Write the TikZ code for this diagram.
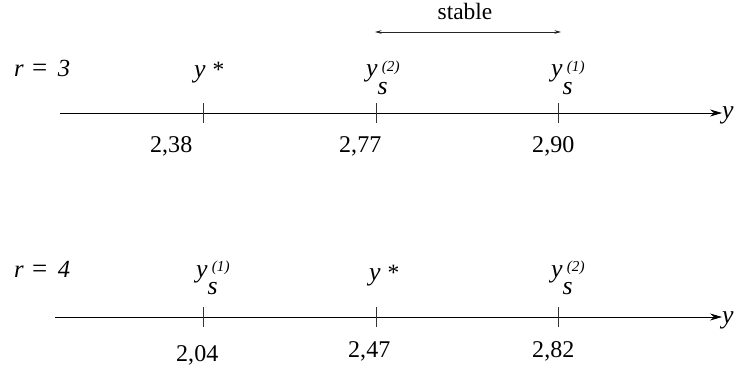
\documentclass[tikz,border=0pt]{standalone}
\usepackage{fontspec}
\setmainfont{Liberation Serif}
\usetikzlibrary{arrows.meta}
\tikzstyle{axis} = [line width=0.6pt,-{Stealth[length=3.6mm,width=2.1mm,inset=1.2mm]}]
\tikzstyle{stablearrow} = [line width=0.5pt,{Stealth[length=2mm,width=1.1mm,inset=0.7mm]}-{Stealth[length=2mm,width=1.1mm,inset=0.7mm]},gray!30!black]
\tikzstyle{tick} = [line width=0.6pt,gray!40!black]
\tikzstyle{value} = [anchor=base west, inner sep=0pt, font=\fontsize{20.5}{22}\selectfont]
\tikzstyle{point} = [anchor=base west, inner sep=0pt, font=\fontsize{22}{24}\selectfont]
\tikzstyle{param} = [anchor=base west, inner sep=0pt, font=\fontsize{21}{24}\selectfont]
% y with index s and label
\newcommand{\ysol}[1]{\textit{y}\kern0pt\raisebox{-15pt}{\textit{s}}\kern-5pt\raisebox{5pt}{\fontsize{13}{14}\selectfont\textit{(#1)}}}
\newcommand{\ystar}{\textit{y}\kern6pt{\fontsize{20}{20}\selectfont*}}

\begin{document}
\begin{tikzpicture}[x=0.03cm,y=-0.03cm]
\useasboundingbox (0,0) rectangle (735,371);

% r = 3
\node (r3) [param] at (14,77) {\textit{r}\kern7pt{\fontsize{23}{23}\selectfont=}\kern9pt\textit{3}};
\coordinate (a3) at (60,113);
\node (y3) [point, anchor=base west] at (722,119) {\textit{y}};
\draw [axis] (a3) -- (y3.west |- a3);
\coordinate (t31) at (203,113);
\coordinate (t32) at (376,113);
\coordinate (t33) at (558,113);
\draw [tick] ([yshift=-0.3cm]t31) -- ([yshift=0.3cm]t31);
\draw [tick] ([yshift=-0.3cm]t32) -- ([yshift=0.3cm]t32);
\draw [tick] ([yshift=-0.3cm]t33) -- ([yshift=0.3cm]t33);
\node (p31) [point] at (194,78) {\ystar};
\node (p32) [point] at (366,77) {\ysol{2}};
\node (p33) [point] at (551,77) {\ysol{1}};
\node (v31) [value] at (150,153) {2,38};
\node (v32) [value] at (339,153) {2,77};
\node (v33) [value] at (532,153) {2,90};

% stable range
\coordinate (s1) at (375,32);
\coordinate (s2) at (561,32);
\node (stable) [value, anchor=base, font=\fontsize{20}{22}\selectfont] at (465,20) {stable};
\draw [stablearrow] (s1) -- (s2);

% r = 4
\node (r4) [param] at (14,277) {\textit{r}\kern7pt{\fontsize{23}{23}\selectfont=}\kern9pt\textit{4}};
\coordinate (a4) at (55,317);
\node (y4) [point, anchor=base west] at (722,323) {\textit{y}};
\draw [axis] (a4) -- (y4.west |- a4);
\coordinate (t41) at (203,317);
\coordinate (t42) at (376,317);
\coordinate (t43) at (558,317);
\draw [tick] ([yshift=-0.3cm]t41) -- ([yshift=0.3cm]t41);
\draw [tick] ([yshift=-0.3cm]t42) -- ([yshift=0.3cm]t42);
\draw [tick] ([yshift=-0.3cm]t43) -- ([yshift=0.3cm]t43);
\node (p41) [point] at (196,277) {\ysol{1}};
\node (p42) [point] at (369,280) {\ystar};
\node (p43) [point] at (551,277) {\ysol{2}};
\node (v41) [value] at (176,361) {2,04};
\node (v42) [value] at (348,357) {2,47};
\node (v43) [value] at (532,357) {2,82};
\end{tikzpicture}
\end{document}
